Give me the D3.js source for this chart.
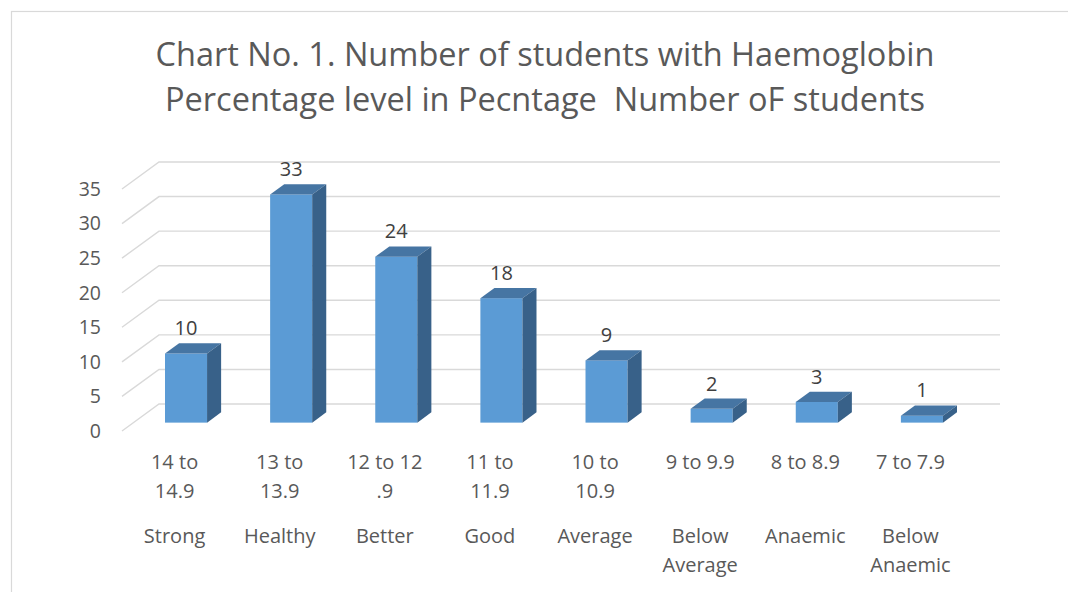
<!DOCTYPE html>
<html>
<head>
<meta charset="utf-8">
<script src="https://cdn.jsdelivr.net/npm/d3@7"></script>
<style>
  body { margin: 0; background: #fff; }
  text { font-family: "Open Sans", sans-serif; fill: #595959; }
</style>
</head>
<body>
<svg id="chart"></svg>
<script>
// chart values
let ranges = ["14 to|14.9", "13 to|13.9", "12 to 12|.9", "11 to|11.9", "10 to|10.9", "9 to 9.9", "8 to 8.9", "7 to 7.9"]
let groups = ["Strong", "Healthy", "Better", "Good", "Average", "Below|Average", "Anaemic", "Below|Anaemic"]
let students = [10, 33, 24, 18, 9, 2, 3, 1]
let yTicks = [0, 5, 10, 15, 20, 25, 30, 35]
let titleLines = ["Chart No. 1. Number of students with Haemoglobin", "Percentage level in Pecntage  Number oF students"]

function getConfig() {
  let width = 1068
  let height = 592
  // front plane of the 3d box
  let front = { left: 122, right: 963, bottom: 431, top: 189 }
  // how far the back wall is shifted from the front plane
  let depth = { dx: 37, dy: -27 }
  let container = d3.select("#chart")
    .attr("width", width)
    .attr("height", height)
  return { width, height, front, depth, container }
}

function getScales(config) {
  let { front } = config
  let xScale = d3.scaleBand()
    .domain(d3.range(students.length))
    .range([front.left, front.right])
    .paddingInner(0)
  let yScale = d3.scaleLinear()
    .domain([0, 35])
    .range([front.bottom, front.top])
  return { xScale, yScale }
}

function drawFrame(config) {
  config.container.append("rect")
    .attr("x", 11.5).attr("y", 11.5)
    .attr("width", 1200).attr("height", 800)
    .attr("fill", "none")
    .attr("stroke", "#d9d9d9")
    .attr("stroke-width", 1.2)
}

function drawTitle(config) {
  config.container.selectAll(".title")
    .data(titleLines)
    .enter().append("text")
    .attr("class", "title")
    .attr("x", 545)
    .attr("y", (d, i) => 66 + i * 45)
    .attr("text-anchor", "middle")
    .style("font-size", "32.5px")
    .style("white-space", "pre")
    .text(d => d)
}

function drawGrid(scales, config) {
  let { yScale } = scales
  let { front, depth, container } = config
  let grid = container.append("g")
  yTicks.forEach(t => {
    let y = yScale(t)
    grid.append("path")
      .attr("d", `M${front.left},${y}L${front.left + depth.dx},${y + depth.dy}L${front.right + depth.dx},${y + depth.dy}`)
      .attr("fill", "none")
      .attr("stroke", "#d9d9d9")
      .attr("stroke-width", 1.4)
  })

  container.selectAll(".ytick")
    .data(yTicks)
    .enter().append("text")
    .attr("class", "ytick")
    .attr("x", 101)
    .attr("y", d => yScale(d))
    .attr("dy", "0.35em")
    .attr("text-anchor", "end")
    .style("font-size", "19.5px")
    .text(d => d)
}

function drawBars(scales, config) {
  let { xScale, yScale } = scales
  let { depth, container } = config
  // bars sit in the middle of the depth, from 31% to 69%
  let f0 = 0.31, f1 = 0.69
  let bw = xScale.bandwidth() * 0.4
  let ddx = depth.dx * (f1 - f0), ddy = depth.dy * (f1 - f0)

  let bars = container.append("g")
  students.forEach((v, i) => {
    let x = xScale(i) + depth.dx * f0 + (xScale.bandwidth() - bw) / 2
    let y0 = yScale(0) + depth.dy * f0
    let y1 = yScale(v) + depth.dy * f0
    let g = bars.append("g")
    g.append("rect")
      .attr("x", x).attr("y", y1)
      .attr("width", bw).attr("height", y0 - y1)
      .attr("fill", "#5b9bd5")
    g.append("path")
      .attr("d", `M${x},${y1}L${x + ddx},${y1 + ddy}L${x + bw + ddx},${y1 + ddy}L${x + bw},${y1}Z`)
      .attr("fill", "#4675a3")
    g.append("path")
      .attr("d", `M${x + bw},${y1}L${x + bw + ddx},${y1 + ddy}L${x + bw + ddx},${y0 + ddy}L${x + bw},${y0}Z`)
      .attr("fill", "#386189")
    g.append("text")
      .attr("x", x + bw / 2)
      .attr("y", y1 + ddy - 8)
      .attr("text-anchor", "middle")
      .style("font-size", "20px")
      .style("fill", "#404040")
      .text(v)
  })
}

function drawCategoryLabels(scales, config) {
  let { xScale } = scales
  let { container } = config
  let labels = container.append("g")
  ranges.forEach((r, i) => {
    let cx = xScale(i) + xScale.bandwidth() / 2
    r.split("|").forEach((line, j) => {
      labels.append("text")
        .attr("x", cx).attr("y", 469 + j * 29)
        .attr("text-anchor", "middle")
        .style("font-size", "20px")
        .text(line)
    })
    groups[i].split("|").forEach((line, j) => {
      labels.append("text")
        .attr("x", cx).attr("y", 543 + j * 29)
        .attr("text-anchor", "middle")
        .style("font-size", "20px")
        .text(line)
    })
  })
}

function drawChart() {
  let config = getConfig()
  let scales = getScales(config)
  drawFrame(config)
  drawTitle(config)
  drawGrid(scales, config)
  drawBars(scales, config)
  drawCategoryLabels(scales, config)
}

drawChart()
</script>
</body>
</html>
